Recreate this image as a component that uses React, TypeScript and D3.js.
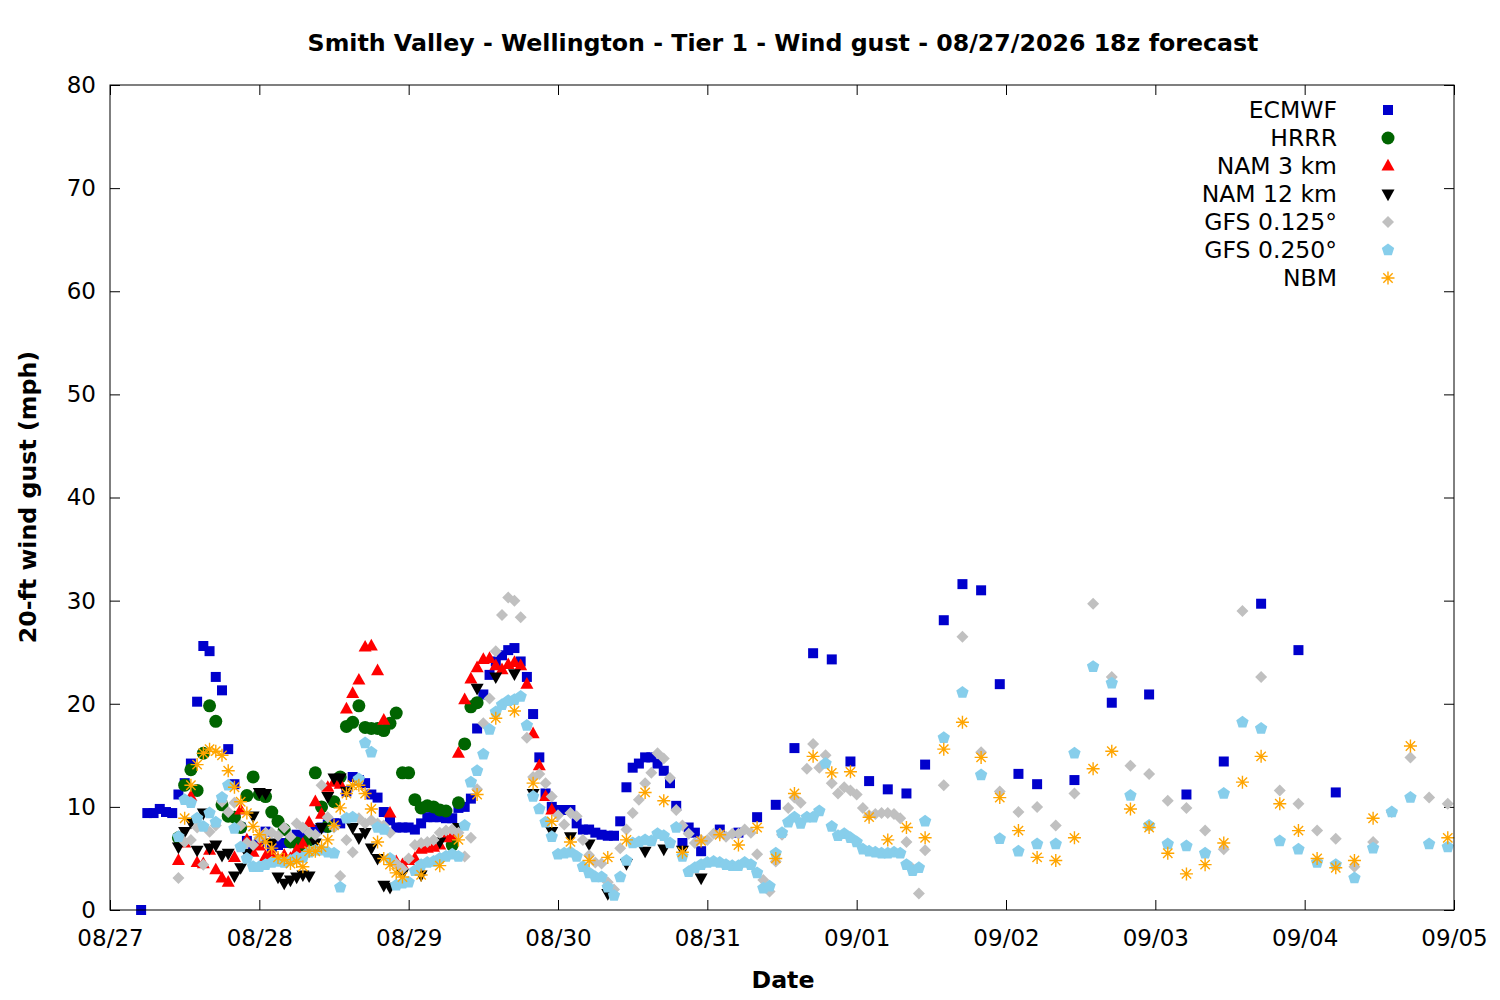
import { useEffect, useRef } from 'react';
import * as d3 from 'd3';

// Forecast hours are counted from 08/27 00:00 on the chart's time axis
const dateLabels = ['08/27', '08/28', '08/29', '08/30', '08/31', '09/01', '09/02', '09/03', '09/04', '09/05'];
const yTicks = [0, 10, 20, 30, 40, 50, 60, 70, 80];

// ECMWF: hourly from h5, 3-hourly from h98, 6-hourly from h155
const ecmwfHourly = [
    0, 9.4, 9.4, 9.8, 9.5, 9.4, 11.2, 12.3, 14.2, 20.2, 25.6, 25.1, 22.6, 21.3, 15.6, 12.2,
    8.0, 6.7, 6.3, 6.6, 7.6, 6.1, 6.3, 6.5, 6.6, 7.3, 7.1, 7.4, 7.8, 8.0, 8.3, 8.4, 8.4,
    11.5, 12.9, 12.6, 12.3, 11.2, 10.9, 9.5, 8.7, 8.0, 8.0, 8.0, 7.8, 8.4, 9.0, 9.0, 9.0,
    8.9, 8.9, 9.9, 10.0, 10.8, 17.6, 20.9, 22.8, 24.1, 24.7, 25.2, 25.4, 24.1, 22.6, 19.0,
    14.8, 11.3, 10.0, 9.7, 9.7, 9.7, 8.4, 7.8, 7.8, 7.5, 7.3, 7.2, 7.2, 8.6, 11.9, 13.8,
    14.2, 14.8, 14.8, 14.2, 13.5, 12.3, 10.1, 6.5, 8.0, 7.5, 5.7,
];
const ecmwf3h = [7.8, 7.5, 9.0, 10.2, 15.7, 24.9, 24.3, 14.4, 12.5, 11.7, 11.3, 14.1, 28.1, 31.6, 31.0, 21.9, 13.2, 12.2];
const ecmwf6h = [12.6, 20.1, 20.9, 11.2, 14.4, 29.7, 25.2, 11.4];

// HRRR: hourly from h11
const hrrrHourly = [
    7.0, 12.1, 13.6, 11.6, 15.2, 19.8, 18.3, 10.2, 9.1, 9.0, 8.0, 11.1, 12.9, 11.2, 11.0,
    9.5, 8.6, 7.8, 6.6, 6.5, 6.3, 6.8, 13.3, 10.0, 8.1, 10.5, 12.9, 17.8, 18.2, 19.8, 17.7,
    17.6, 17.6, 17.4, 18.1, 19.1, 13.3, 13.3, 10.7, 9.9, 10.1, 10.0, 9.7, 9.6, 6.3, 10.4,
    16.1, 19.7, 20.1,
];

// NAM 3 km: hourly from h11
const nam3Hourly = [
    4.8, 6.5, 11.0, 4.6, 4.5, 5.8, 3.9, 3.1, 2.7, 5.1, 9.7, 6.8, 5.6, 6.2, 5.2, 5.5, 4.9,
    5.3, 5.0, 5.8, 6.4, 8.5, 10.5, 9.3, 11.9, 12.4, 12.2, 19.5, 21.0, 22.3, 25.5, 25.6,
    23.2, 18.4, 9.4, 4.7, 4.4, 4.8, 5.0, 5.9, 6.0, 6.1, 6.3, 7.0, 7.2, 15.2, 20.4, 22.4,
    23.5, 24.3, 24.4, 23.7, 23.3, 23.8, 24.0, 23.7, 21.9, 17.1, 14.0, 11.0, 9.7,
];

// NAM 12 km: hourly from h11, 3-hourly from h47
const nam12Hourly = [
    6.1, 7.6, 8.5, 5.8, 9.4, 6.0, 6.3, 5.3, 5.5, 3.3, 4.1, 5.5, 9.1, 11.4, 11.3, 6.5, 3.2,
    2.6, 2.9, 3.2, 3.4, 3.3, 6.5, 8.0, 11.0, 12.8, 12.8, 11.5, 8.0, 7.0, 7.5, 6.0, 5.0,
    2.4, 2.2,
];
const nam12_3h = [3.5, 3.4, 6.6, 8.0, 21.5, 22.6, 22.9, 11.3, 7.6, 7.1, 6.4, 1.6, 4.5, 5.7, 5.9, 5.8, 3.1];

// GFS 0.125: hourly from h11, 3-hourly from h134
const gfs125Hourly = [
    3.1, 6.6, 6.8, 8.0, 4.4, 7.6, 8.2, 10.5, 9.5, 10.4, 8.2, 6.5, 6.3, 7.0, 7.5, 7.5, 7.2,
    8.0, 7.1, 8.4, 8.0, 7.5, 7.3, 12.1, 9.0, 8.0, 3.3, 6.8, 5.6, 8.9, 8.4, 8.7, 8.4, 8.2,
    7.5, 4.5, 4.0, 5.0, 6.3, 6.5, 6.6, 6.8, 7.5, 7.7, 7.8, 7.5, 5.2, 7.0, 11.7, 18.1, 20.5,
    25.1, 28.6, 30.3, 30.0, 28.4, 16.7, 12.9, 13.2, 12.3, 11.0, 9.2, 8.3, 9.4, 9.1, 6.8,
    5.3, 4.6, 4.5, 2.7, 2.0, 6.0, 7.8, 9.4, 10.7, 12.3, 13.3, 15.2, 14.7, 12.8, 9.7, 8.2,
    7.4, 6.5, 6.8, 6.8, 7.4, 7.4, 7.1, 7.4, 7.4, 7.8, 7.5, 5.4, 2.9, 1.8, 4.7, 7.3, 9.9,
    10.9, 10.4, 13.7, 16.1, 13.8, 15.0, 12.3, 11.3, 11.9, 11.6, 11.2, 9.9, 9.2, 9.3, 9.4,
    9.4, 9.3, 8.9, 6.6, 4.0, 1.6, 5.8,
];
const gfs125_3h = [
    12.1, 26.5, 15.3, 11.5, 9.5, 10.0, 8.2, 11.3, 29.7, 22.6, 14.0, 13.2, 10.6, 9.9, 7.7,
    5.9, 29.0, 22.6, 11.6, 10.3, 7.7, 6.9, 4.2, 6.6, 9.5, 14.8, 10.9, 10.3,
];

// GFS 0.250: hourly from h11, 3-hourly from h134
const gfs250Hourly = [
    7.1, 10.7, 10.4, 8.9, 8.1, 9.4, 8.5, 10.9, 12.1, 7.9, 6.1, 5.0, 4.2, 4.2, 4.4, 4.6, 4.7,
    4.6, 4.8, 5.1, 5.1, 5.6, 5.8, 5.8, 5.6, 5.5, 2.2, 8.9, 9.0, 12.7, 16.2, 15.3, 8.0, 7.8,
    5.0, 2.4, 2.6, 2.7, 3.8, 4.4, 4.6, 4.7, 5.0, 5.2, 5.4, 5.2, 8.2, 12.4, 13.5, 15.1, 17.5,
    19.2, 19.9, 20.3, 20.4, 20.7, 17.9, 11.0, 9.8, 8.5, 7.1, 5.4, 5.5, 5.6, 5.2, 4.2, 3.6,
    3.2, 3.2, 2.2, 1.4, 3.2, 4.8, 6.5, 6.6, 6.8, 6.7, 7.4, 7.2, 6.5, 8.0, 5.2, 3.7, 4.1,
    4.4, 4.6, 4.7, 4.6, 4.4, 4.3, 4.3, 4.6, 4.4, 3.6, 2.1, 2.3, 5.5, 7.5, 8.5, 9.0, 8.4,
    9.0, 9.0, 9.6, 14.2, 8.1, 7.2, 7.4, 7.0, 6.6, 5.9, 5.7, 5.6, 5.5, 5.5, 5.6, 5.5, 4.4,
    3.8, 4.1, 8.6,
];
const gfs250_3h = [
    16.7, 21.1, 13.1, 6.9, 5.7, 6.4, 6.4, 15.2, 23.6, 22.0, 11.1, 8.2, 6.4, 6.2, 5.5, 11.3,
    18.2, 17.6, 6.7, 5.9, 4.6, 4.4, 3.1, 6.0, 9.5, 10.9, 6.4, 6.1,
];

// NBM: hourly from h12, 3-hourly from h50, 6-hourly from h209
const nbmHourly = [
    8.9, 12.1, 14.1, 15.2, 15.6, 15.4, 15.0, 13.5, 11.9, 10.5, 9.4, 8.1, 7.3, 6.6, 6.0, 5.1,
    4.9, 4.5, 4.7, 4.2, 5.7, 5.7, 6.1, 6.8, 8.2, 9.9, 11.3, 12.1, 12.1, 11.3, 9.8, 6.6, 5.0,
    4.4, 3.6, 3.2,
];
const nbm3h = [
    3.4, 4.3, 6.8, 11.2, 18.6, 19.3, 12.3, 8.6, 6.6, 4.8, 5.1, 6.8, 11.4, 10.6, 5.6, 6.7,
    7.3, 6.3, 8.0, 5.0, 11.3, 14.9, 13.3, 13.4, 9.0, 6.8, 8.0, 7.0, 15.6, 18.2, 14.8, 10.9,
    7.7, 5.1, 4.8, 7.0, 13.7, 15.4, 9.8, 8.0, 5.5, 3.5, 4.4, 6.5, 12.4, 14.9, 10.3, 7.7,
    5.0, 4.1, 4.8, 8.9,
];
const nbm6h = [15.9, 7.0];

type Pt = { h: number; v: number };

function seg(start: number, step: number, values: number[]): Pt[] {
    return values.map((v, i) => ({ h: start + i * step, v }));
}

// marker shapes (gnuplot-like)
const square = { draw(ctx: any, s: number) { ctx.rect(-s / 2, -s / 2, s, s); } };
const circle = { draw(ctx: any, s: number) { ctx.moveTo(s / 2, 0); ctx.arc(0, 0, s / 2, 0, Math.PI * 2); } };
const triUp = {
    draw(ctx: any, s: number) {
        ctx.moveTo(0, -s * 0.55); ctx.lineTo(s / 2, s * 0.35); ctx.lineTo(-s / 2, s * 0.35); ctx.closePath();
    },
};
const triDown = {
    draw(ctx: any, s: number) {
        ctx.moveTo(0, s * 0.55); ctx.lineTo(s / 2, -s * 0.35); ctx.lineTo(-s / 2, -s * 0.35); ctx.closePath();
    },
};
const diamond = {
    draw(ctx: any, s: number) {
        const r = s / 2;
        ctx.moveTo(0, -r); ctx.lineTo(r, 0); ctx.lineTo(0, r); ctx.lineTo(-r, 0); ctx.closePath();
    },
};
const pentagon = {
    draw(ctx: any, s: number) {
        const r = s / 2;
        for (let k = 0; k < 5; k++) {
            const a = -Math.PI / 2 + (k * 2 * Math.PI) / 5;
            if (k === 0) ctx.moveTo(r * Math.cos(a), r * Math.sin(a));
            else ctx.lineTo(r * Math.cos(a), r * Math.sin(a));
        }
        ctx.closePath();
    },
};
const star = {
    draw(ctx: any, s: number) {
        const r = s / 2;
        const d = r * 0.72;
        ctx.moveTo(-r, 0); ctx.lineTo(r, 0);
        ctx.moveTo(0, -r); ctx.lineTo(0, r);
        ctx.moveTo(-d, -d); ctx.lineTo(d, d);
        ctx.moveTo(-d, d); ctx.lineTo(d, -d);
    },
};

const series = [
    { name: 'ECMWF', color: '#0000cc', type: square, size: 10, stroke: false,
      points: [...seg(5, 1, ecmwfHourly), ...seg(98, 3, ecmwf3h), ...seg(155, 6, ecmwf6h)] },
    { name: 'HRRR', color: '#006400', type: circle, size: 13, stroke: false,
      points: seg(11, 1, hrrrHourly) },
    { name: 'NAM 3 km', color: '#ff0000', type: triUp, size: 13, stroke: false,
      points: seg(11, 1, nam3Hourly) },
    { name: 'NAM 12 km', color: '#000000', type: triDown, size: 13, stroke: false,
      points: [...seg(11, 1, nam12Hourly), ...seg(47, 3, nam12_3h)] },
    { name: 'GFS 0.125°', color: '#c0c0c0', type: diamond, size: 12, stroke: false,
      points: [...seg(11, 1, gfs125Hourly), ...seg(134, 3, gfs125_3h)] },
    { name: 'GFS 0.250°', color: '#87ceeb', type: pentagon, size: 13, stroke: false,
      points: [...seg(11, 1, gfs250Hourly), ...seg(134, 3, gfs250_3h)] },
    { name: 'NBM', color: '#ffa500', type: star, size: 13, stroke: true,
      points: [...seg(12, 1, nbmHourly), ...seg(50, 3, nbm3h), ...seg(209, 6, nbm6h)] },
];

export default function App() {
    const svgRef = useRef<SVGSVGElement>(null);

    useEffect(() => {
        if (!svgRef.current) return;
        const root = d3.select(svgRef.current);
        root.selectAll('*').remove();

        const left = 110, right = 1454, top = 85, bottom = 910;
        const font = 'DejaVu Sans, Liberation Sans, sans-serif';

        const x = d3.scaleLinear().domain([0, (dateLabels.length - 1) * 24]).range([left, right]);
        const y = d3.scaleLinear().domain([0, 80]).range([bottom, top]);

        root.append('rect').attr('width', 1500).attr('height', 1000).attr('fill', 'white');

        // Axes
        const dayTicks = dateLabels.map((_, i) => i * 24);
        const styleAxis = (g: any) => {
            g.select('.domain').remove();
            g.selectAll('line').attr('stroke', '#000');
            g.selectAll('text').attr('font-family', font).attr('font-size', 23).attr('fill', '#000');
        };

        root.append('g')
            .attr('transform', `translate(0,${bottom})`)
            .call(d3.axisBottom(x).tickValues(dayTicks).tickFormat((_, i) => dateLabels[i]).tickSize(-10).tickPadding(20))
            .call(styleAxis);
        root.append('g')
            .attr('transform', `translate(0,${top})`)
            .call(d3.axisTop(x).tickValues(dayTicks).tickFormat(() => '').tickSize(-10))
            .call(styleAxis);
        root.append('g')
            .attr('transform', `translate(${left},0)`)
            .call(d3.axisLeft(y).tickValues(yTicks).tickSize(-10).tickPadding(14))
            .call(styleAxis);
        root.append('g')
            .attr('transform', `translate(${right},0)`)
            .call(d3.axisRight(y).tickValues(yTicks).tickFormat(() => '').tickSize(-10))
            .call(styleAxis);

        // Points
        const plot = root.append('g');
        series.forEach((s) => {
            const sym = d3.symbol().type(s.type as any).size(s.size);
            plot.append('g')
                .selectAll('path')
                .data(s.points)
                .join('path')
                .attr('transform', (d: Pt) => `translate(${x(d.h)},${y(d.v)})`)
                .attr('d', sym as any)
                .attr('fill', s.stroke ? 'none' : s.color)
                .attr('stroke', s.stroke ? s.color : 'none')
                .attr('stroke-width', s.stroke ? 1.4 : 0);
        });

        // Frame
        root.append('rect')
            .attr('x', left).attr('y', top)
            .attr('width', right - left).attr('height', bottom - top)
            .attr('fill', 'none').attr('stroke', '#000').attr('stroke-width', 1);

        // Legend
        const legend = root.append('g');
        series.forEach((s, i) => {
            const ly = 110 + i * 28;
            legend.append('text')
                .attr('x', 1337).attr('y', ly)
                .attr('dy', '0.35em')
                .attr('text-anchor', 'end')
                .attr('font-family', font).attr('font-size', 23.5)
                .text(s.name);
            legend.append('path')
                .attr('transform', `translate(1388,${ly})`)
                .attr('d', d3.symbol().type(s.type as any).size(s.size)() as string)
                .attr('fill', s.stroke ? 'none' : s.color)
                .attr('stroke', s.stroke ? s.color : 'none')
                .attr('stroke-width', s.stroke ? 1.4 : 0);
        });

        // Titles
        root.append('text')
            .attr('x', 783).attr('y', 51)
            .attr('text-anchor', 'middle')
            .attr('font-family', font).attr('font-size', 23.7).attr('font-weight', 'bold')
            .text('Smith Valley - Wellington - Tier 1 - Wind gust - 08/27/2026 18z forecast');
        root.append('text')
            .attr('x', 783).attr('y', 988)
            .attr('text-anchor', 'middle')
            .attr('font-family', font).attr('font-size', 23.7).attr('font-weight', 'bold')
            .text('Date');
        root.append('text')
            .attr('transform', 'translate(36,497) rotate(-90)')
            .attr('text-anchor', 'middle')
            .attr('font-family', font).attr('font-size', 23.7).attr('font-weight', 'bold')
            .text('20-ft wind gust (mph)');
    }, []);

    return (
        <div style={{ width: 1500, height: 1000 }}>
            <svg ref={svgRef} width={1500} height={1000} style={{ display: 'block', position: 'absolute', left: 0, top: 0 }} />
        </div>
    );
}
